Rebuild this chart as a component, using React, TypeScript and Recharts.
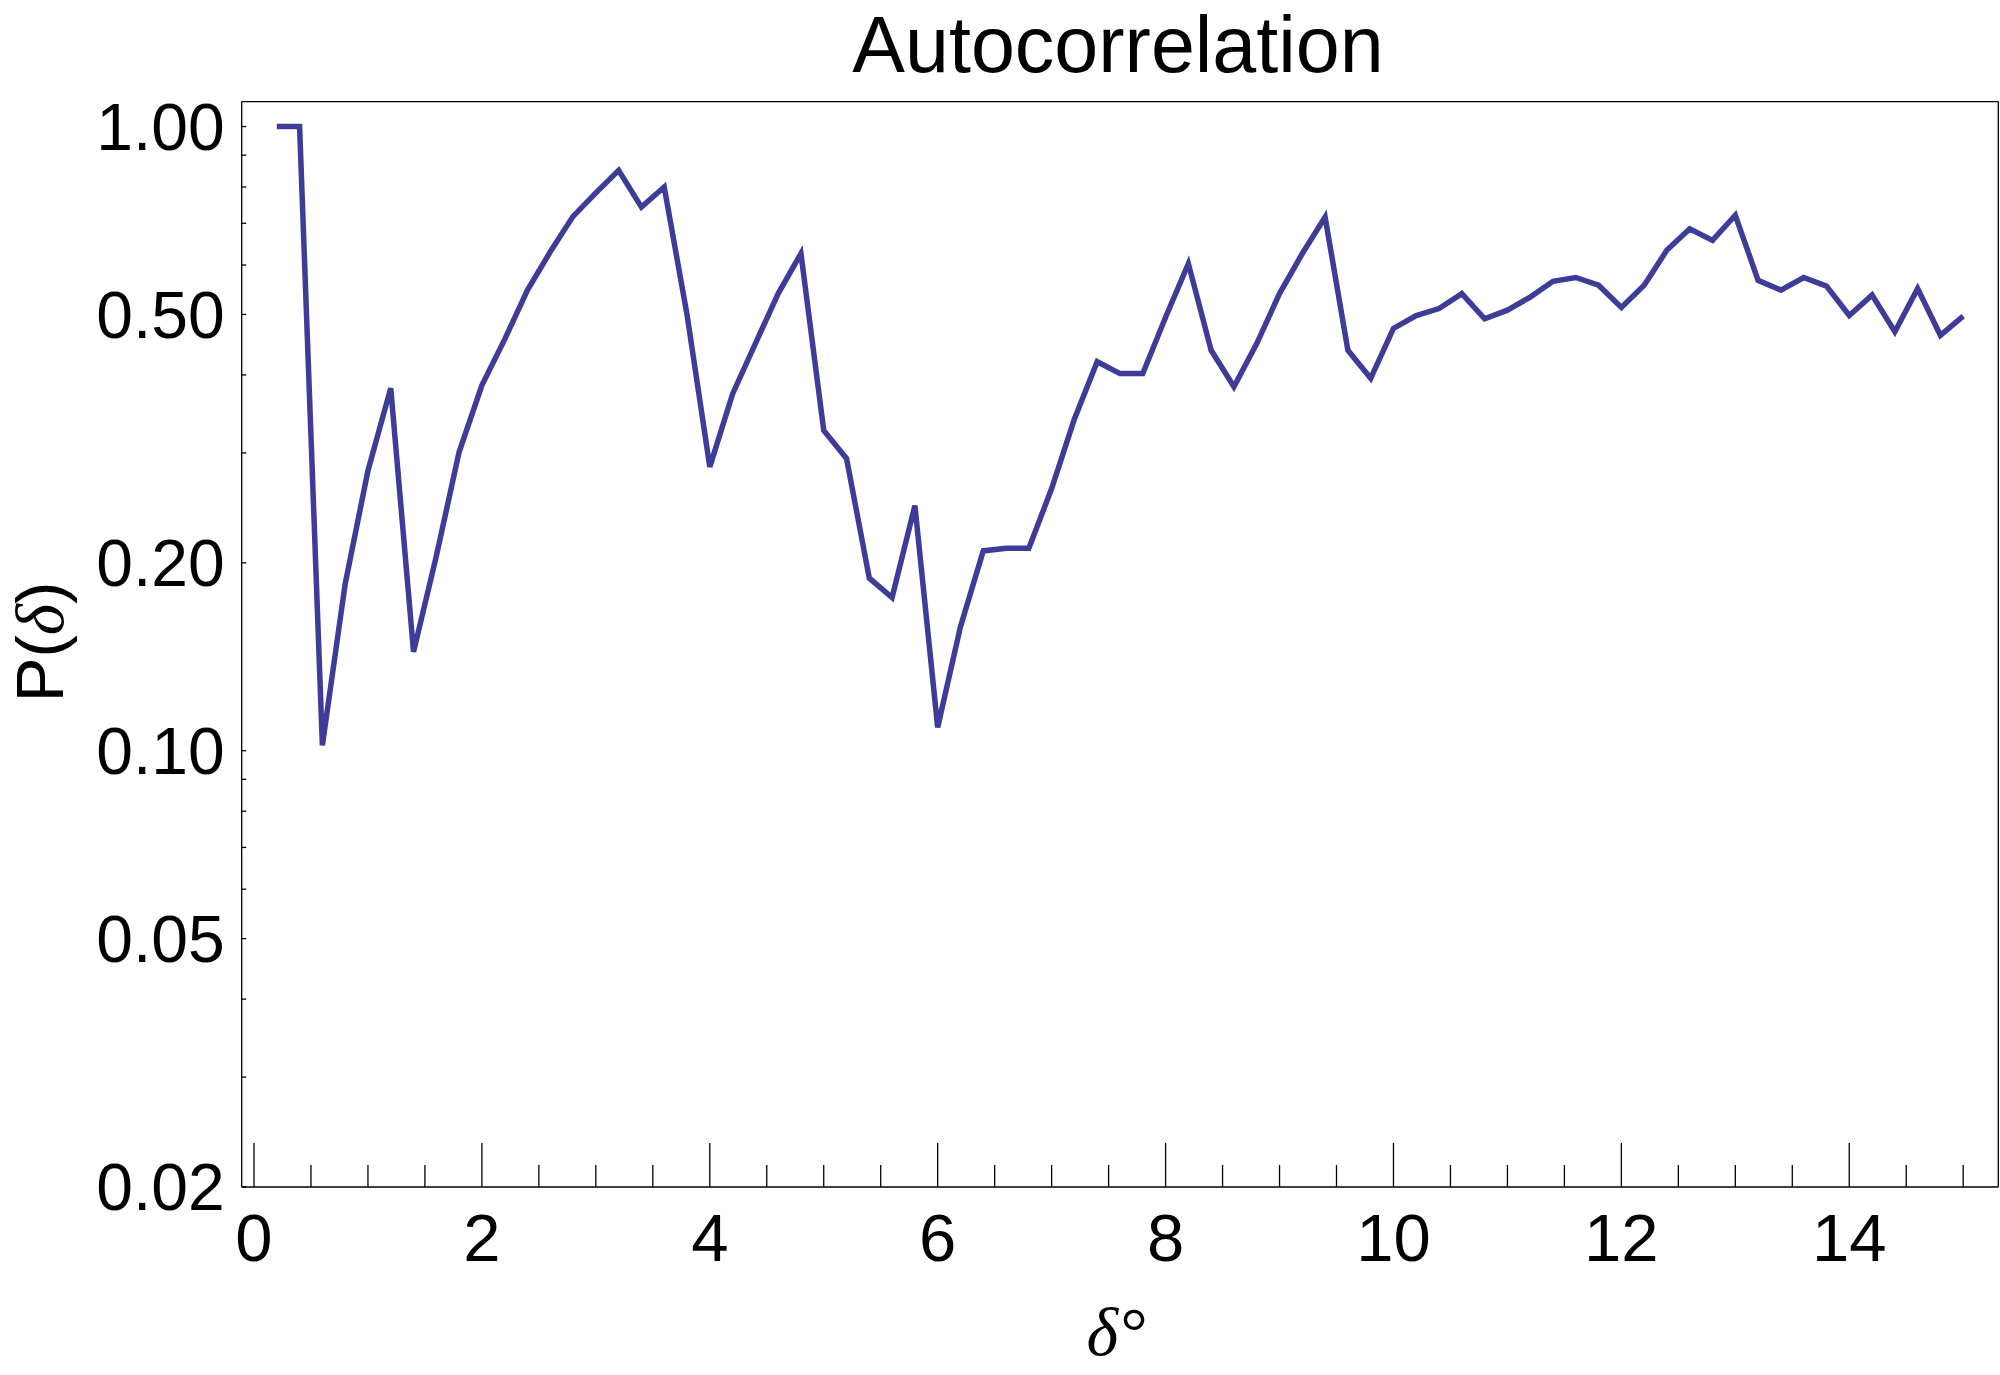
import { LineChart, Line, XAxis, YAxis, Label } from "recharts"

// lag in degrees
const delta = [
  0.2, 0.4, 0.6, 0.8, 1.0, 1.2, 1.4, 1.6, 1.8, 2.0,
  2.2, 2.4, 2.6, 2.8, 3.0, 3.2, 3.4, 3.6, 3.8, 4.0,
  4.2, 4.4, 4.6, 4.8, 5.0, 5.2, 5.4, 5.6, 5.8, 6.0,
  6.2, 6.4, 6.6, 6.8, 7.0, 7.2, 7.4, 7.6, 7.8, 8.0,
  8.2, 8.4, 8.6, 8.8, 9.0, 9.2, 9.4, 9.6, 9.8, 10.0,
  10.2, 10.4, 10.6, 10.8, 11.0, 11.2, 11.4, 11.6, 11.8, 12.0,
  12.2, 12.4, 12.6, 12.8, 13.0, 13.2, 13.4, 13.6, 13.8, 14.0,
  14.2, 14.4, 14.6, 14.8, 15.0,
]

// P(delta)
const prob = [
  1.0, 1.0, 0.102, 0.185, 0.281, 0.381, 0.144, 0.205, 0.301, 0.385,
  0.456, 0.547, 0.63, 0.718, 0.783, 0.851, 0.743, 0.8, 0.5, 0.285,
  0.373, 0.449, 0.54, 0.626, 0.326, 0.294, 0.189, 0.176, 0.247, 0.109,
  0.158, 0.209, 0.211, 0.211, 0.263, 0.34, 0.42, 0.402, 0.402, 0.495,
  0.603, 0.438, 0.383, 0.449, 0.54, 0.626, 0.716, 0.438, 0.395, 0.475,
  0.498, 0.511, 0.54, 0.492, 0.508, 0.533, 0.565, 0.573, 0.557, 0.513,
  0.557, 0.634, 0.686, 0.657, 0.721, 0.567, 0.547, 0.573, 0.555, 0.498,
  0.537, 0.469, 0.55, 0.463, 0.497,
]

const xTicks = [
  0, 0.5, 1, 1.5, 2, 2.5, 3, 3.5, 4, 4.5, 5, 5.5, 6, 6.5, 7, 7.5,
  8, 8.5, 9, 9.5, 10, 10.5, 11, 11.5, 12, 12.5, 13, 13.5, 14, 14.5, 15,
]
const xLabelTicks = [0, 2, 4, 6, 8, 10, 12, 14]

const yMajorTicks = [1, 0.5, 0.2, 0.1, 0.05, 0.02]
const yTickLabels = ["1.00", "0.50", "0.20", "0.10", "0.05", "0.02"]
const yMinorTicks = [0.9, 0.8, 0.7, 0.6, 0.4, 0.3, 0.09, 0.08, 0.07, 0.06, 0.04, 0.03]

const data = delta.map((d, i) => ({ d, p: prob[i] }))

const SANS = "'Liberation Sans', Arial, sans-serif"
const SERIF = "'Liberation Serif', 'Times New Roman', serif"

function XTick(props: any) {
  const { x, y, payload } = props
  const v = payload.value
  const major = xLabelTicks.includes(v)
  return (
    <g>
      <line x1={x} x2={x} y1={y} y2={y - (major ? 44 : 22)} stroke="#000" strokeWidth={1.3} />
      {major && (
        <text x={x} y={y + 74} textAnchor="middle" fontSize={67} fontFamily={SANS} fill="#000">
          {v}
        </text>
      )}
    </g>
  )
}

function YTick(props: any) {
  const { x, y, payload } = props
  const i = yMajorTicks.indexOf(payload.value)
  return (
    <g>
      <line x1={x} x2={x + 4.5} y1={y} y2={y} stroke="#000" strokeWidth={1.3} />
      {i >= 0 && (
        <text x={x - 17} y={y} dy="0.355em" textAnchor="end" fontSize={66} fontFamily={SANS} fill="#000">
          {yTickLabels[i]}
        </text>
      )}
    </g>
  )
}

export default function App() {
  return (
    <div style={{ position: "absolute", left: 0, top: 0, background: "#fff" }}>
      <LineChart
        width={2000}
        height={1375}
        data={data}
        margin={{ top: 100.7, right: 0.7, bottom: 187, left: 240.7 }}
      >
        <XAxis
          xAxisId="b"
          type="number"
          dataKey="d"
          domain={[-0.108, 15.308]}
          ticks={xTicks}
          interval={0}
          height={1}
          tickSize={0}
          tickMargin={0}
          tickLine={false}
          axisLine={{ stroke: "#000", strokeWidth: 1.3 }}
          tick={(p: any) => <XTick {...p} />}
          allowDataOverflow
        >
          <Label
            content={() => (
              <text x={1116} y={1355} textAnchor="middle" fontSize={68} fontFamily={SERIF} fontStyle="italic" fill="#000">
                δ°
              </text>
            )}
          />
        </XAxis>
        <XAxis
          xAxisId="t"
          orientation="top"
          type="number"
          domain={[-0.108, 15.308]}
          height={1}
          tick={false}
          tickLine={false}
          axisLine={{ stroke: "#000", strokeWidth: 1.3 }}
          allowDataOverflow
        >
          <Label
            content={() => (
              <text x={1118} y={72} textAnchor="middle" fontSize={79} fontFamily={SANS} fill="#000">
                Autocorrelation
              </text>
            )}
          />
        </XAxis>
        <YAxis
          yAxisId="l"
          type="number"
          scale="log"
          domain={[0.02, 1.096]}
          ticks={[...yMajorTicks, ...yMinorTicks]}
          interval={0}
          width={1}
          tickSize={0}
          tickMargin={0}
          tickLine={false}
          axisLine={{ stroke: "#000", strokeWidth: 1.3 }}
          tick={(p: any) => <YTick {...p} />}
          allowDataOverflow
        >
          <Label
            content={() => (
              <text
                transform="translate(63,642) rotate(-90)"
                textAnchor="middle"
                fontSize={67}
                fontFamily={SANS}
                fill="#000"
              >
                P(<tspan fontFamily={SERIF} fontStyle="italic">δ</tspan>)
              </text>
            )}
          />
        </YAxis>
        <YAxis
          yAxisId="r"
          orientation="right"
          type="number"
          domain={[0, 1]}
          width={1}
          tick={false}
          tickLine={false}
          axisLine={{ stroke: "#000", strokeWidth: 1.3 }}
        />
        <Line
          xAxisId="b"
          yAxisId="l"
          type="linear"
          dataKey="p"
          stroke="#3d3d99"
          strokeWidth={5.5}
          strokeLinejoin="miter"
          strokeLinecap="butt"
          dot={false}
          activeDot={false}
          isAnimationActive={false}
        />
      </LineChart>
    </div>
  )
}
